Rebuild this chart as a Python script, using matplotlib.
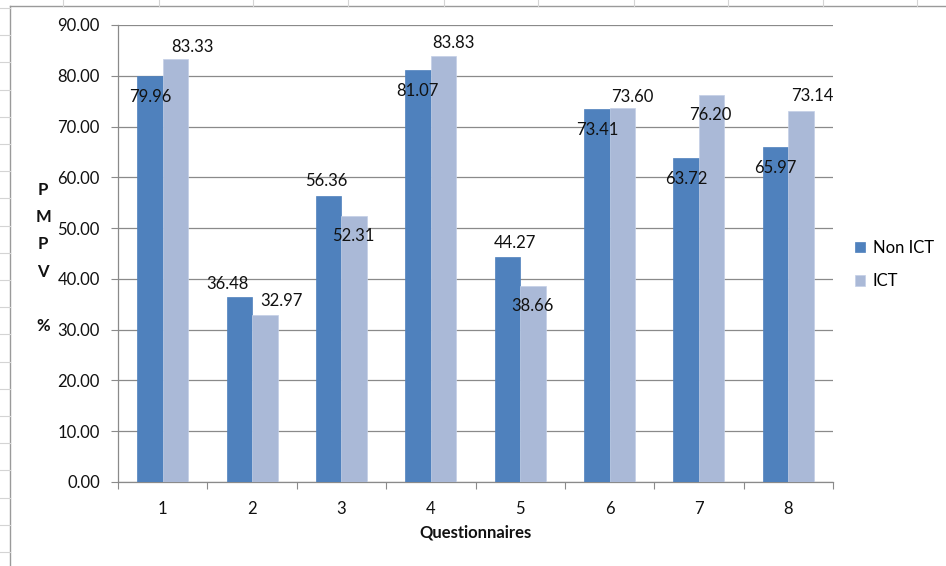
import matplotlib
matplotlib.use("Agg")
import matplotlib.pyplot as plt
import numpy as np

# ---- data ----
categories = ["1", "2", "3", "4", "5", "6", "7", "8"]
non_ict = [79.96, 36.48, 56.36, 81.07, 44.27, 73.41, 63.72, 65.97]
ict = [83.33, 32.97, 52.31, 83.83, 38.66, 73.60, 76.20, 73.14]
series_names = ["Non ICT", "ICT"]
y_ticks = [0, 10, 20, 30, 40, 50, 60, 70, 80, 90]

# ---- style ----
FONT = "Lato"
FS = 12
C_NON = "#4F81BD"
C_ICT = "#AAB9D7"
GRID = "#8A8A8A"
TXT = "#111111"
# label offsets (pixels) relative to bar top centre: (dx, dy)
off_non = [(0, -21), (-12, 13), (-2, 15), (-1, -21), (8, 14), (0, -21), (0, -21), (0, -21)]
off_ict = [(17, 12), (17, 14), (-1, -20), (10, 13), (0, -20), (10, 11), (-1, -20), (11, 15)]

W, H = 946, 566
fig = plt.figure(figsize=(W / 100, H / 100), dpi=100)
plt.rcParams["font.family"] = [FONT, "DejaVu Sans"]

L, R, T, B = 118, 833, 25, 482
ax = fig.add_axes([L / W, 1 - B / H, (R - L) / W, (B - T) / H])

x = np.arange(len(categories))
bw = 0.285
b1 = ax.bar(x - bw / 2, non_ict, bw, color=C_NON, edgecolor=C_NON, linewidth=0.5,
            label=series_names[0], zorder=3)
b2 = ax.bar(x + bw / 2, ict, bw, color=C_ICT, edgecolor="#C3CFE6", linewidth=0.5,
            label=series_names[1], zorder=3)

ax.set_xlim(-0.5, len(categories) - 0.5)
ax.set_ylim(0, 90)
ax.set_yticks(y_ticks)
ax.set_yticklabels([f"{v:.2f}" for v in y_ticks], fontsize=FS, color=TXT)
ax.set_xticks(x)
ax.set_xticklabels(categories, fontsize=FS, color=TXT)
ax.set_xticks(np.arange(-0.5, len(categories)), minor=True)
ax.tick_params(axis="x", which="major", length=0, pad=14)
ax.tick_params(axis="x", which="minor", length=5, color=GRID, width=0.8)
ax.tick_params(axis="y", length=5, color=GRID, width=0.8, pad=8)

ax.grid(axis="y", color=GRID, linewidth=0.9, zorder=0)
for s in ["top", "right"]:
    ax.spines[s].set_visible(False)
for s in ["left", "bottom"]:
    ax.spines[s].set_color(GRID)
    ax.spines[s].set_linewidth(0.9)

for bars, vals, offs in ((b1, non_ict, off_non), (b2, ict, off_ict)):
    for bar, v, (dx, dy) in zip(bars, vals, offs):
        ax.annotate(f"{v:.2f}", (bar.get_x() + bar.get_width() / 2, v),
                    xytext=(dx, dy), textcoords="offset pixels",
                    ha="center", va="center", fontsize=FS, color=TXT, zorder=5)

ax.legend(loc="upper left", bbox_to_anchor=(855 / W, 1 - 240 / H),
          bbox_transform=fig.transFigure, frameon=False, fontsize=FS,
          handlelength=0.6, handleheight=0.6, handletextpad=0.45,
          labelspacing=1.05, borderpad=0, borderaxespad=0)

fig.text(475 / W, 1 - 533 / H, "Questionnaires", ha="center", va="center",
         fontsize=FS, fontweight="bold", color=TXT)
fig.text(43 / W, 1 - 258 / H, "P\nM\nP\nV\n\n%", ha="center", va="center",
         fontsize=FS, fontweight="bold", color=TXT, linespacing=1.85)

# spreadsheet frame decorations
ov = fig.add_axes([0, 0, 1, 1], zorder=-1)
ov.set_xlim(0, W)
ov.set_ylim(H, 0)
ov.axis("off")
ov.plot([10, W], [6, 6], color="#9A9A9A", lw=1)
ov.plot([10, 10], [6, H], color="#9A9A9A", lw=1)
for yy in np.arange(8, H, 27.2):
    ov.plot([0, 10], [yy, yy], color="#D4D4D4", lw=0.8)
for xx in [63, 159, 253, 348, 444, 538, 634, 728, 823, 917]:
    ov.plot([xx, xx], [0, 6], color="#D4D4D4", lw=0.8)

fig.savefig("out.png", dpi=100)
